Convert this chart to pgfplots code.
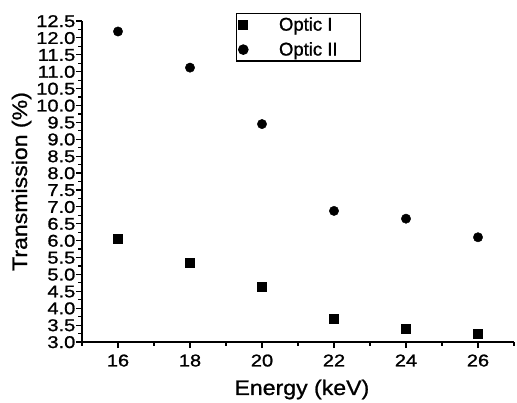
\documentclass[border=0pt]{standalone}
\usepackage{pgfplots}
\pgfplotsset{compat=1.18}
\usepackage{fontspec}
\setmainfont{Liberation Sans}
\newfontfamily\widefont[FakeStretch=1.18,FakeBold=1.2]{Liberation Sans}
\newfontfamily\labfont[FakeStretch=1.1,FakeBold=1]{Liberation Sans}
\newfontfamily\legfont[FakeBold=1]{Liberation Sans}
\begin{document}
\begin{tikzpicture}[x=1pt,y=1pt]
\useasboundingbox (-82pt,-60pt) rectangle (435pt,342pt);
\begin{axis}[
  scale only axis,
  width=432pt, height=321pt,
  xmin=15, xmax=27, ymin=3, ymax=12.5,
  axis x line*=bottom, axis y line*=left,
  axis line style={line width=1.4pt, -},
  xtick={16,18,20,22,24,26},
  minor xtick={15,17,19,21,23,25,27},
  ytick={3,3.5,...,12.5},
  minor y tick num=1,
  tick align=outside,
  major tick length=6pt, minor tick length=3.5pt,
  every tick/.style={black, line width=1.2pt},
  /pgf/number format/assume math mode=true,
  xticklabel style={font=\widefont\fontsize{17}{18}\selectfont, /pgf/number format/fixed, yshift=-3pt},
  yticklabel style={font=\widefont\fontsize{17}{17}\selectfont, /pgf/number format/fixed, /pgf/number format/precision=1, /pgf/number format/fixed zerofill, inner xsep=0pt, inner ysep=0pt, text height=12pt, text depth=0pt, xshift=-0.5pt},
  xlabel={Energy (keV)}, ylabel={Transmission (\%)},
  label style={font=\labfont\fontsize{21}{23}\selectfont},
  xlabel style={at={(0.509,-0.165)}, anchor=base},
  ylabel style={at={(-0.1273,0.5)}, anchor=base},
  legend style={at={(0.3565,1.026)}, anchor=north west, draw=black, line width=1.2pt, font=\legfont\fontsize{18.5}{20}\selectfont, row sep=6pt, inner xsep=2pt, inner ysep=2pt, legend cell align=left},
  legend image code/.code={\draw[#1] plot coordinates {(1.0cm,0cm)};},
  clip=false,
]
\addplot[only marks, mark=square*, mark size=4.5pt, black] coordinates {
(16,6.07) (18,5.34) (20,4.64) (22,3.70) (24,3.39) (26,3.25)};
\addlegendentry{\hspace*{29pt}Optic I\hspace*{19pt}}
\addplot[only marks, mark=*, mark size=4.7pt, black] coordinates {
(16,12.19) (18,11.12) (20,9.45) (22,6.88) (24,6.65) (26,6.10)};
\addlegendentry{\hspace*{29pt}Optic II\hspace*{19pt}}
\end{axis}
\end{tikzpicture}
\end{document}
